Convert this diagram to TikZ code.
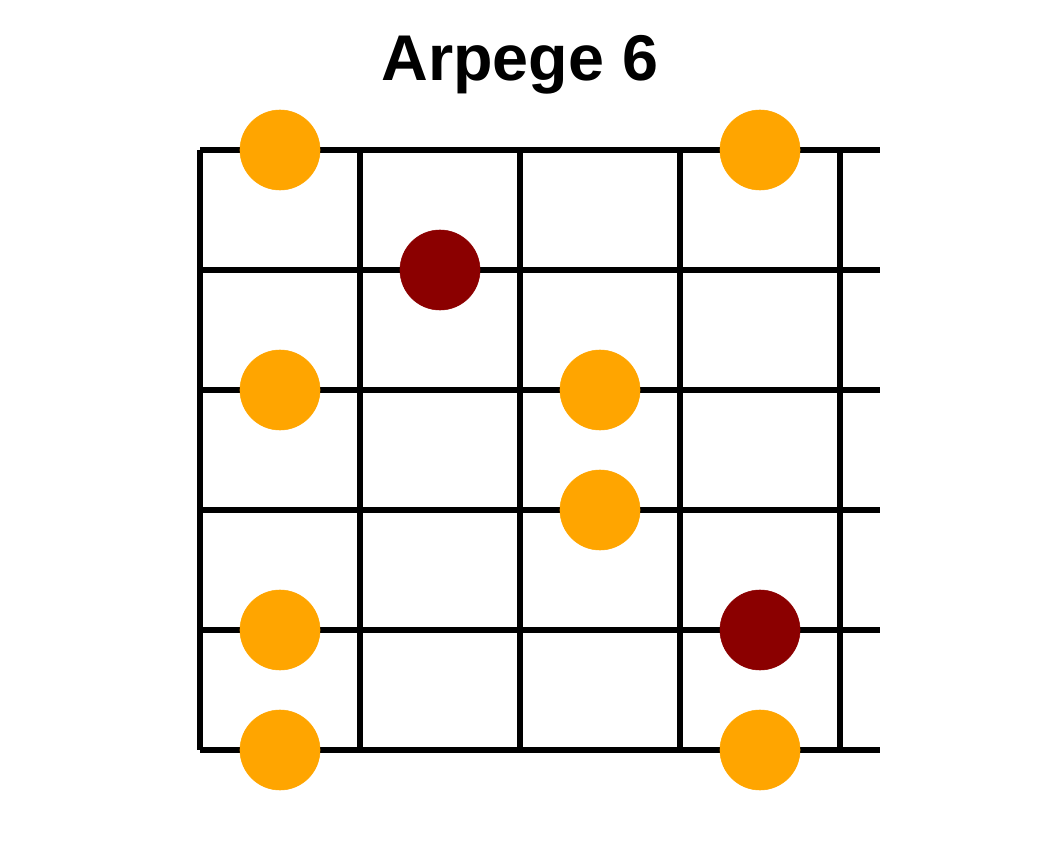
\documentclass[tikz,border=0pt]{standalone}
\usepackage{fontspec}
\setmainfont{Liberation Sans}
\usepackage{xcolor}
\usepackage{tikz}
\usetikzlibrary{positioning}

\definecolor{noteorange}{HTML}{FFA500}
\definecolor{rootred}{HTML}{8B0000}

\begin{document}
\begin{tikzpicture}
\useasboundingbox (0,0) rectangle (26,-21.25);
\node[anchor=base] (title) at (13,-2.025) {\fontsize{46}{50}\selectfont\bfseries Arpege 6};
% strings
\foreach \y in {-3.75,-6.75,-9.75,-12.75,-15.75,-18.75}
  \draw[black, line width=4.3pt] (5,\y) -- (22,\y);
% frets
\foreach \x in {5,9,13,17,21}
  \draw[black, line width=4.3pt] (\x,-3.75) -- (\x,-18.75);
% notes
\filldraw[noteorange] (7,-3.75) circle (1);
\filldraw[noteorange] (19,-3.75) circle (1);
\filldraw[rootred] (11,-6.75) circle (1);
\filldraw[noteorange] (7,-9.75) circle (1);
\filldraw[noteorange] (15,-9.75) circle (1);
\filldraw[noteorange] (15,-12.75) circle (1);
\filldraw[noteorange] (7,-15.75) circle (1);
\filldraw[rootred] (19,-15.75) circle (1);
\filldraw[noteorange] (7,-18.75) circle (1);
\filldraw[noteorange] (19,-18.75) circle (1);
\end{tikzpicture}
\end{document}
